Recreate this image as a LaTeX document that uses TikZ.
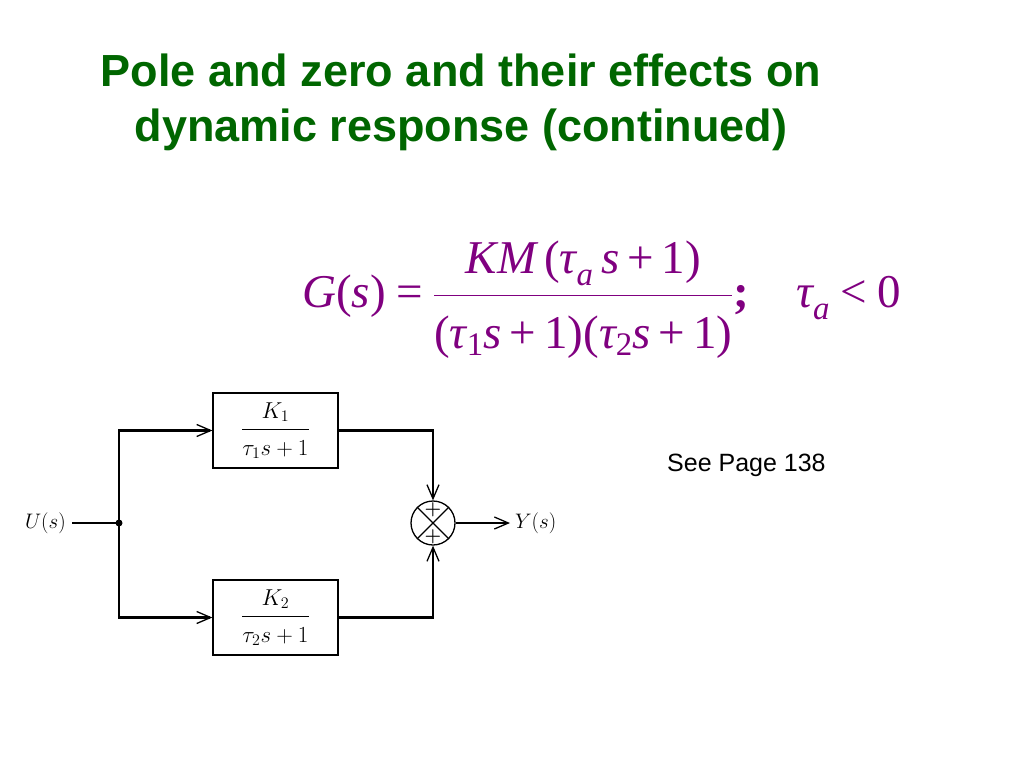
\RequirePackage{fix-cm}
\documentclass[tikz,border=0pt]{standalone}
\usepackage{fontspec}
\usepackage{amsmath}
\usetikzlibrary{arrows.meta,calc}
\newfontfamily\titlefont{Liberation Sans}
\newfontfamily\eqfont{Liberation Serif}
\definecolor{titlegreen}{RGB}{0,102,0}
\definecolor{eqpurple}{RGB}{128,0,128}
\newcommand\mi[1]{\text{\eqfont\itshape #1}}
\newcommand\mr[1]{\text{\eqfont #1}}
\newcommand\pls{\mathbin{\mr{+}}}
\newcommand\lowa{\text{\raisebox{-5pt}{\eqfont\itshape a}}}
\begin{document}
\begin{tikzpicture}[x=1pt,y=-1pt,
  title/.style={font=\titlefont\bfseries\fontsize{45}{54}\selectfont,text=titlegreen,anchor=base,inner sep=0pt},
  blk/.style={draw,line width=1.3pt,minimum width=125pt,minimum height=75pt,inner sep=0pt,font=\fontsize{23}{26}\selectfont},
  wire/.style={line width=2.2pt},
  arr/.style={wire,-{Straight Barb[length=14pt,width=12pt,line width=1.3pt]}},
  lbl/.style={font=\fontsize{21}{24}\selectfont,inner sep=0pt},
  pl/.style={font=\fontsize{19}{19}\selectfont\bfseries,inner sep=0pt}
]
\useasboundingbox (0,0) rectangle (1024,768);
\node[title] (t1) at (461,86) {Pole and zero and their effects on};
\node[title] (t2) at (461,141) {dynamic response (continued)};

\node[text=eqpurple,font=\fontsize{47}{56}\selectfont,anchor=base west,inner sep=0pt] (eq) at (302,307)
 {$\medmuskip=3mu\thickmuskip=4mu\displaystyle \mi{G}\mr{(}\mi{s}\mr{)}\mathrel{\mr{=}}\frac{\rule[-18pt]{0pt}{18pt}\mi{KM}\,\mr{(}\mi{τ}_{\lowa}\,\mi{s}\pls\mr{1}\mr{)}}{\rule{0pt}{50pt}\mr{(}\mi{τ}_{\mr{1}}\mi{s}\pls\mr{1}\mr{)}\mr{(}\mi{τ}_{\mr{2}}\mi{s}\pls\mr{1}\mr{)}}\mr{\bfseries ;}\hspace{1.0em}\mi{τ}_{\lowa}\mathrel{\mr{<}}\mr{0}$};

\node[font=\titlefont\fontsize{25}{28}\selectfont,anchor=base west,inner sep=0pt] (see) at (667,471) {See Page 138};

\node[blk] (b1) at (275.5,430.5) {$\displaystyle\frac{\rule[-8pt]{0pt}{8pt}K_1}{\rule{0pt}{22pt}\tau_1 s + 1}$};
\node[blk] (b2) at (275.5,617.5) {$\displaystyle\frac{\rule[-8pt]{0pt}{8pt}K_2}{\rule{0pt}{22pt}\tau_2 s + 1}$};
\node[draw,circle,line width=1.3pt,minimum size=44pt,inner sep=0pt] (sum) at (433,523) {};
\draw[line width=1.3pt] (sum.north west) -- (sum.south east) (sum.north east) -- (sum.south west);
\node[pl] (p1) at (433,510) {+};
\node[pl] (p2) at (433,537) {+};
\node[lbl,anchor=east] (U) at (66,523) {$U(s)$};
\node[lbl,anchor=west] (Y) at (515,523) {$Y(s)$};
\coordinate (j) at (119,523);
\coordinate (ustart) at (72,523);
\coordinate (yend) at (510,523);
\draw[wire] (ustart) -- (j);
\fill (j) circle (3.5);
\draw[arr] (j) |- (b1.west);
\draw[arr] (j) |- (b2.west);
\draw[arr] (b1.east) -| (sum.north);
\draw[arr] (b2.east) -| (sum.south);
\draw[arr] (sum.east) -- (yend);
\end{tikzpicture}
\end{document}
